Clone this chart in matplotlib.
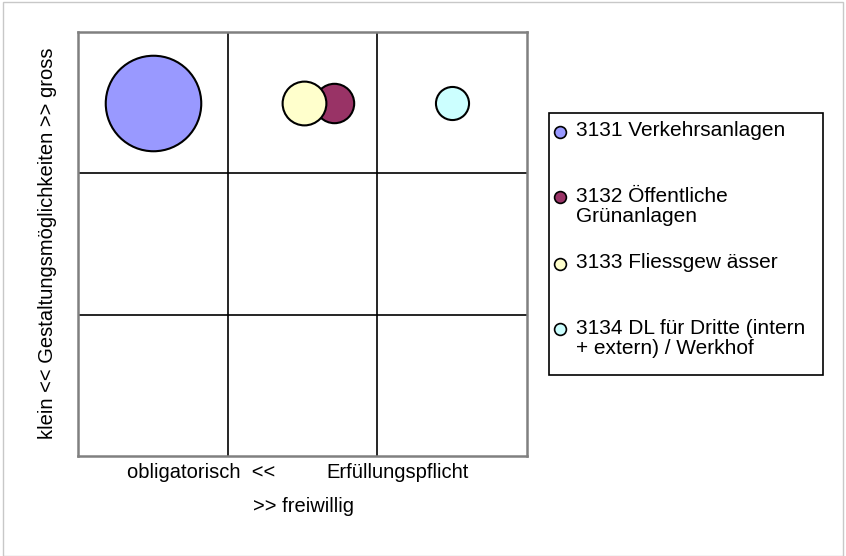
import matplotlib.pyplot as plt
from matplotlib.patches import Rectangle
from matplotlib.lines import Line2D

plt.rcParams['font.family'] = ['Liberation Sans', 'DejaVu Sans']

# bubble data
labels = ['3131 Verkehrsanlagen', '3132 Öffentliche\nGrünanlagen',
          '3133 Fliessgew ässer', '3134 DL für Dritte (intern\n+ extern) / Werkhof']
x_vals = [0.5, 1.71, 1.51, 2.5]
y_vals = [2.5, 2.5, 2.5, 2.5]
sizes = [100, 17, 21, 12]
colors = ['#9999FF', '#993366', '#FFFFCC', '#CCFFFF']

fig = plt.figure(figsize=(8.46, 5.56), dpi=100)
W, H = 846, 556

# outer frame
fig.patches.append(Rectangle((3 / W, 0.5 / H), 840 / W, 554 / H, transform=fig.transFigure,
                             fill=False, edgecolor='#c8c8c8', linewidth=1))

ax = fig.add_axes([78 / W, 1 - 456 / H, 449 / W, 424 / H])
ax.set_xlim(0, 3)
ax.set_ylim(0, 3)
for v in [1, 2]:
    ax.axvline(v, color='black', linewidth=1.2, zorder=1)
    ax.axhline(v, color='black', linewidth=1.2, zorder=1)
for s in ax.spines.values():
    s.set_edgecolor('#808080')
    s.set_linewidth(1.8)
ax.set_xticks([])
ax.set_yticks([])

k = 4730 / max(sizes)
for i in range(len(labels)):
    ax.scatter(x_vals[i], y_vals[i], s=sizes[i] * k, color=colors[i],
               edgecolor='black', linewidth=1.5, zorder=3 + i)

# axis titles
fig.text(127 / W, 1 - 473 / H, 'obligatorisch  <<', ha='left', va='center', fontsize=14.5)
fig.text(326 / W, 1 - 473 / H, 'Erfüllungspflicht', ha='left', va='center', fontsize=14.5)
fig.text(303 / W, 1 - 507 / H, '>> freiwillig', ha='center', va='center', fontsize=14.5)
fig.text(48 / W, 1 - 243 / H, 'klein << Gestaltungsmöglichkeiten >> gross',
         ha='center', va='center', rotation=90, fontsize=14.5)

# legend
fig.patches.append(Rectangle((549 / W, 1 - 375 / H), 274 / W, 262 / H,
                             transform=fig.transFigure, fill=False,
                             edgecolor='black', linewidth=1.2))
entry_y = [132, 197, 264, 329]
for i in range(len(labels)):
    fig.lines.append(Line2D([560 / W], [1 - entry_y[i] / H], transform=fig.transFigure,
                            marker='o', markersize=8.5, markerfacecolor=colors[i],
                            markeredgecolor='black', markeredgewidth=1.2, linestyle='none'))
    fig.text(576 / W, 1 - (entry_y[i] - 10.5) / H, labels[i], ha='left', va='top',
             fontsize=15, linespacing=1.12)

fig.savefig('out.png', dpi=100)
